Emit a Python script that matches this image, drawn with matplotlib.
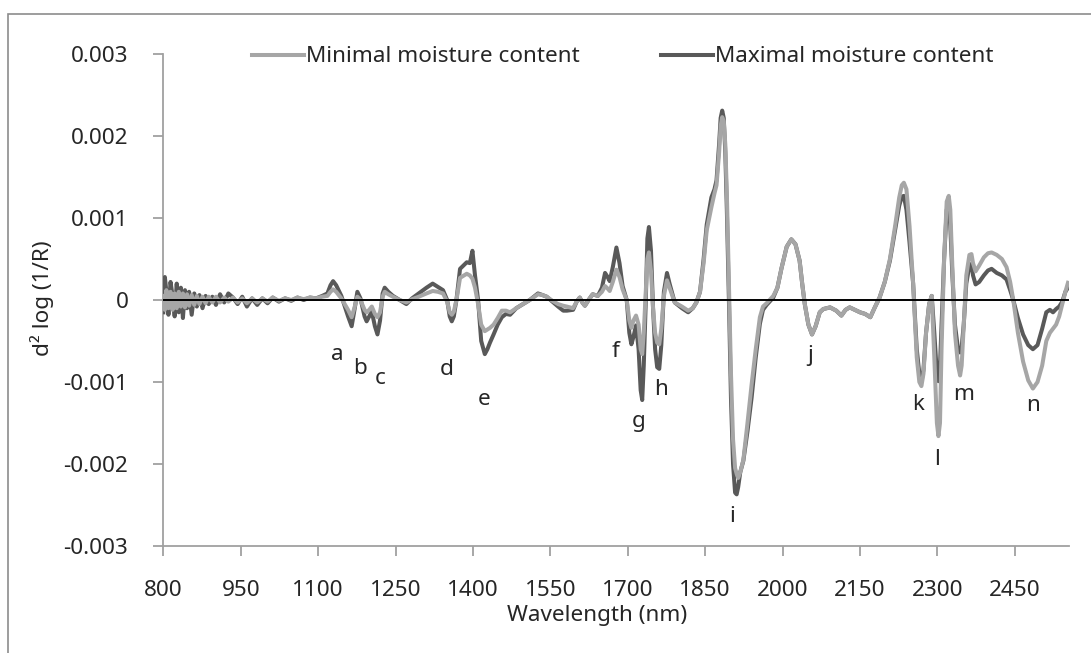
import matplotlib.pyplot as plt
from matplotlib.patches import Rectangle

plt.rcParams['font.family'] = ['Noto Sans', 'DejaVu Sans']

# Data
# (wavelength in nm, second derivative for maximal / minimal moisture content)

# 800-1118: noisy start
wl_1 = [800, 803, 806, 810, 814, 818, 822, 826, 830, 834, 838, 842, 846, 850, 855,
        860, 865, 870, 876, 882, 888, 895, 902, 910, 918, 926, 935, 944, 953, 962,
        972, 982, 992, 1002, 1012, 1024, 1036, 1048, 1060, 1072, 1084, 1096, 1108, 1118]
max_1 = [-0.00015, 0.00028, 0.0001, -0.00018, 0.00022, 0.00005, -0.0002, 0.0002, -0.00015,
         0.00015, -0.00022, 0.00012, -0.0001, 0.0001, -0.00018, 0.00008, -0.00008, 0.00006,
         -0.0001, 0.00005, -0.00005, 0.00004, -0.00006, 0.00007, -0.00003, 0.00008, 0.00003,
         -0.00005, 0.00004, -0.00008, 0.00002, -0.00006, 0.00002, -0.00004, 0.00003, -0.00002,
         0.00002, -0.00001, 0.00003, 0.0, 0.00003, 0.00002, 0.00005, 0.00008]
min_1 = [0.00005, -0.00012, 0.00012, -0.0001, 0.0001, -0.00012, 0.00008, -0.0001, 0.0001,
         -0.00008, 0.00008, -0.00009, 0.00007, -0.00007, 0.00006, -0.00006, 0.00005, -0.00005,
         0.00004, -0.00004, 0.00004, -0.00003, 0.00004, -0.00003, 0.00003, -0.00002, 0.00003,
         -0.00003, 0.00002, -0.00004, 0.00002, -0.00003, 0.00002, -0.00002, 0.00003, -0.00001,
         0.00002, 0.0, 0.00003, 0.00001, 0.00003, 0.00002, 0.00004, 0.00005]

# 1124-1404: bands a-d
wl_2 = [1124, 1129, 1135, 1145, 1158, 1165, 1171, 1176, 1182, 1190, 1194, 1199, 1204, 1210,
        1215, 1220, 1225, 1229, 1236, 1245, 1258, 1271, 1282, 1295, 1310, 1322, 1332, 1342,
        1350, 1355, 1359, 1363, 1368, 1375, 1388, 1394, 1399, 1404]
max_2 = [0.00018, 0.00023, 0.00018, 0.00005, -0.0002, -0.00032, -0.0001, 0.0001, 0.00002,
         -0.0002, -0.00026, -0.0002, -0.00014, -0.00032, -0.00042, -0.00025, 0.00008, 0.00015,
         0.0001, 0.00005, 0.0, -0.00005, 0.00002, 0.00008, 0.00015, 0.0002, 0.00016, 0.00012,
         0.0, -0.0002, -0.00026, -0.0002, 0.0, 0.00038, 0.00046, 0.00045, 0.0006, 0.0003]
min_2 = [0.0001, 0.00013, 0.0001, 0.00002, -0.00012, -0.00021, -0.00008, 0.00004, 0.0,
         -0.00012, -0.00015, -0.00012, -0.00008, -0.00017, -0.00021, -0.00015, 0.00004, 0.0001,
         0.00007, 0.00004, 0.0, -0.00003, 0.00001, 0.00004, 0.00008, 0.00011, 0.0001, 0.00008,
         -0.00002, -0.00015, -0.00018, -0.00014, 0.0, 0.00027, 0.00032, 0.0003, 0.00026, 0.00015]

# 1410-1698: band e up to f
wl_3 = [1410, 1416, 1423, 1428, 1433, 1440, 1448, 1456, 1464, 1472, 1484, 1497, 1510, 1526,
        1535, 1543, 1554, 1565, 1575, 1582, 1594, 1601, 1607, 1612, 1617, 1624, 1632, 1642,
        1650, 1656, 1661, 1665, 1671, 1678, 1684, 1690, 1698]
max_3 = [0.0, -0.0005, -0.00066, -0.0006, -0.00052, -0.00042, -0.0003, -0.00021, -0.00017,
         -0.00018, -0.0001, -0.00005, 0.0, 0.00008, 0.00006, 0.00004, -0.00002, -0.00008,
         -0.00013, -0.00013, -0.00012, -0.00002, 0.00003, -0.00003, -0.00007, 0.0, 0.00007,
         0.00005, 0.00015, 0.00033, 0.00028, 0.00023, 0.0004, 0.00064, 0.00045, 0.00017, 0.0]
min_3 = [-0.00005, -0.0003, -0.00038, -0.00036, -0.00034, -0.0003, -0.00022, -0.00013, -0.00013,
         -0.00015, -0.0001, -0.00005, 0.0, 0.00007, 0.00006, 0.00004, -0.00001, -0.00005,
         -0.00007, -0.00008, -0.0001, -0.00002, 0.00003, -0.00003, -0.00007, 0.0, 0.00007,
         0.00005, 0.0001, 0.00017, 0.00014, 0.00011, 0.00022, 0.00037, 0.00028, 0.00013, 0.0]

# 1703-1840: bands f-h
wl_4 = [1703, 1707, 1711, 1716, 1721, 1725, 1728, 1731, 1735, 1738, 1741, 1745, 1749, 1753,
        1757, 1761, 1765, 1770, 1776, 1781, 1791, 1805, 1817, 1826, 1833, 1840]
max_4 = [-0.0004, -0.00054, -0.00045, -0.00031, -0.0006, -0.0011, -0.00122, -0.0008, 0.0,
         0.00075, 0.00089, 0.0006, -0.0001, -0.0006, -0.00082, -0.00084, -0.00055, 0.0001,
         0.00033, 0.0002, -0.00003, -0.0001, -0.00015, -0.0001, -0.00003, 0.0001]
min_4 = [-0.00025, -0.00034, -0.00025, -0.00019, -0.0003, -0.0006, -0.00066, -0.0004, 0.0001,
         0.0005, 0.00058, 0.00035, -0.0001, -0.0004, -0.00052, -0.00054, -0.00035, 0.00005,
         0.00024, 0.00015, -0.00003, -0.00008, -0.00013, -0.0001, -0.00003, 0.0001]

# 1847-2064: main peak, band i and j
wl_5 = [1847, 1853, 1862, 1868, 1872, 1877, 1880, 1883, 1886, 1889, 1892, 1896, 1900, 1904,
        1908, 1911, 1914, 1918, 1924, 1932, 1940, 1948, 1956, 1962, 1969, 1982, 1990, 1998,
        2008, 2017, 2025, 2033, 2038, 2043, 2050, 2057, 2064]
max_5 = [0.0005, 0.00092, 0.00125, 0.00135, 0.00146, 0.0019, 0.00222, 0.00231, 0.00222, 0.0018,
         0.0011, 0.0, -0.0012, -0.002, -0.00235, -0.00237, -0.00228, -0.0021, -0.00196, -0.0016,
         -0.00119, -0.0007, -0.00029, -0.00012, -0.00006, 0.00003, 0.00015, 0.00039, 0.00065,
         0.00074, 0.00068, 0.00048, 0.0002, -0.00005, -0.0003, -0.00042, -0.00032]
min_5 = [0.00045, 0.00085, 0.00113, 0.0013, 0.0014, 0.0018, 0.00212, 0.00223, 0.00218, 0.0019,
         0.0013, 0.0002, -0.0009, -0.0017, -0.00205, -0.00212, -0.00217, -0.0021, -0.00195, -0.0015,
         -0.00103, -0.0006, -0.00021, -0.00008, -0.00004, 0.00005, 0.00015, 0.00039, 0.00065,
         0.00074, 0.00068, 0.00048, 0.0002, -0.00005, -0.0003, -0.00042, -0.00032]

# 2072-2253: flat part and peak before k
wl_6 = [2072, 2079, 2092, 2104, 2114, 2122, 2130, 2140, 2150, 2160, 2170, 2178, 2188, 2198,
        2208, 2218, 2226, 2231, 2235, 2240, 2246, 2253]
max_6 = [-0.00015, -0.00011, -0.00009, -0.00013, -0.00019, -0.00012, -0.00009, -0.00012, -0.00015,
         -0.00017, -0.00021, -0.0001, 0.00003, 0.00022, 0.00048, 0.00085, 0.00115, 0.00126,
         0.00127, 0.0011, 0.0007, 0.0002]
min_6 = [-0.00015, -0.00011, -0.00009, -0.00013, -0.00019, -0.00012, -0.00009, -0.00012, -0.00015,
         -0.00017, -0.00021, -0.0001, 0.00003, 0.00022, 0.0005, 0.0009, 0.00125, 0.0014,
         0.00143, 0.00135, 0.0009, 0.0002]

# 2260-2553: bands k-n
wl_7 = [2260, 2265, 2269, 2273, 2278, 2284, 2289, 2294, 2299, 2302, 2305, 2308, 2313, 2318,
        2322, 2325, 2329, 2334, 2340, 2344, 2347, 2351, 2356, 2362, 2366, 2369, 2374, 2381,
        2390, 2398, 2405, 2415, 2425, 2434, 2441, 2447, 2456, 2466, 2476, 2485, 2494, 2503,
        2511, 2518, 2524, 2530, 2536, 2542, 2548, 2553]
max_7 = [-0.0006, -0.0009, -0.001, -0.00085, -0.0004, -0.00005, 0.00005, -0.0004, -0.0009,
         -0.00099, -0.0008, -0.0003, 0.0005, 0.0011, 0.00115, 0.0009, 0.0003, -0.0003, -0.0006,
         -0.00064, -0.00058, -0.0003, 0.0002, 0.00042, 0.00044, 0.0003, 0.00019, 0.00022, 0.0003,
         0.00036, 0.00038, 0.00033, 0.0003, 0.00025, 0.00012, 0.0, -0.00022, -0.00042, -0.00055,
         -0.0006, -0.00055, -0.00035, -0.00015, -0.00012, -0.00015, -0.00011, -0.00008, -0.00002,
         0.0001, 0.00015]
min_7 = [-0.0007, -0.001, -0.00105, -0.0009, -0.0004, -0.00005, 0.00005, -0.0007, -0.0015,
         -0.00166, -0.0015, -0.0006, 0.0005, 0.0012, 0.00127, 0.0011, 0.0004, -0.0004, -0.0008,
         -0.00092, -0.0008, -0.0003, 0.0003, 0.00055, 0.00056, 0.00045, 0.00035, 0.00042, 0.00052,
         0.00057, 0.00058, 0.00055, 0.0005, 0.0004, 0.00022, 0.0, -0.0004, -0.00075, -0.00098,
         -0.00108, -0.001, -0.0008, -0.0005, -0.0004, -0.00035, -0.0003, -0.0002, -0.00005,
         0.0001, 0.00021]

wavelength = wl_1 + wl_2 + wl_3 + wl_4 + wl_5 + wl_6 + wl_7
maximal = max_1 + max_2 + max_3 + max_4 + max_5 + max_6 + max_7
minimal = min_1 + min_2 + min_3 + min_4 + min_5 + min_6 + min_7

peak_labels = ['a', 'b', 'c', 'd', 'e', 'f', 'g', 'h', 'i', 'j', 'k', 'l', 'm', 'n']
peak_x = [1137, 1181, 1220, 1349, 1421, 1677, 1722, 1765, 1903, 2053, 2263, 2299, 2350, 2485]
peak_y = [-0.00066, -0.00083, -0.00096, -0.00085, -0.00121, -0.00063, -0.00148, -0.00109,
          -0.00264, -0.00068, -0.00127, -0.00195, -0.00115, -0.00129]

xticks = [800, 950, 1100, 1250, 1400, 1550, 1700, 1850, 2000, 2150, 2300, 2450]
yticks = [-0.003, -0.002, -0.001, 0, 0.001, 0.002, 0.003]
ytick_labels = ['-0.003', '-0.002', '-0.001', '0', '0.001', '0.002', '0.003']

LIGHT = '#a6a6a6'
DARK = '#595959'
AXIS = '#a0a0a0'
TEXT = '#262626'
FS = 16.2

fig = plt.figure(figsize=(10.91, 6.53), dpi=100)
ax = fig.add_axes([163.3 / 1091, 1 - 546 / 653, (1069 - 163.3) / 1091, (546 - 54) / 653])

# chart border (Excel style)
fig.patches.append(Rectangle((8 / 1091, -0.05), 1.2, 1 - 14 / 653 + 0.05, transform=fig.transFigure,
                             fill=False, edgecolor='#8c8c8c', linewidth=1.2))

l_max, = ax.plot(wavelength, maximal, color=DARK, lw=2.9, solid_joinstyle='round', zorder=3)
l_min, = ax.plot(wavelength, minimal, color=LIGHT, lw=2.9, solid_joinstyle='round', zorder=4)
ax.plot([800, 2553], [0, 0], color='black', lw=1.4, zorder=5)

for lab, x, y in zip(peak_labels, peak_x, peak_y):
    ax.text(x, y, lab, ha='center', va='center', fontsize=FS, color=TEXT)

ax.set_xlim(800, 2555)
ax.set_ylim(-0.003, 0.003)
ax.set_xticks(xticks)
ax.set_xticklabels([str(t) for t in xticks])
ax.set_yticks(yticks)
ax.set_yticklabels(ytick_labels)

for s in ['top', 'right']:
    ax.spines[s].set_visible(False)
for s in ['left', 'bottom']:
    ax.spines[s].set_color(AXIS)
    ax.spines[s].set_linewidth(1.3)
ax.tick_params(axis='both', colors=AXIS, labelcolor=TEXT, labelsize=FS, length=7.2, width=1.3)
ax.tick_params(axis='y', pad=18)
ax.tick_params(axis='x', pad=17)

fig.text(597 / 1091, 1 - 615 / 653, 'Wavelength (nm)', ha='center', va='center', fontsize=FS, color=TEXT)
fig.text(42 / 1091, 1 - 298 / 653, 'd² log (1/R)', ha='center', va='center', rotation=90,
         fontsize=FS, color=TEXT)

ax.legend([l_min, l_max], ['Minimal moisture content', 'Maximal moisture content'],
          loc='center', bbox_to_anchor=(0.571, 1 - 57 / 653), bbox_transform=fig.transFigure,
          ncol=2, frameon=False, fontsize=FS, handlelength=2.3, handletextpad=0.1,
          columnspacing=3.6, labelcolor=TEXT)

fig.savefig('out.png', dpi=100)
